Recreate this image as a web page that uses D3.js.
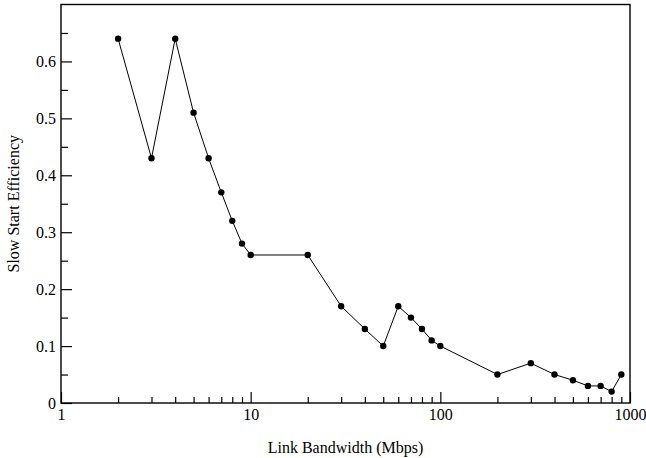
<!DOCTYPE html>
<html>
<head>
<meta charset="utf-8">
<script src="https://cdn.jsdelivr.net/npm/d3@7"></script>
<style>
  body { margin: 0; background: #fff; }
  svg { display: block; font-family: "Liberation Serif", "Times New Roman", serif; }
</style>
</head>
<body>
<div id="chart"></div>
<script>
// bandwidth (Mbps) and slow start efficiency
const bandwidth = [2, 3, 4, 5, 6, 7, 8, 9, 10, 20, 30, 40, 50, 60, 70, 80, 90, 100, 200, 300, 400, 500, 600, 700, 800, 900];
const efficiency = [0.64, 0.43, 0.64, 0.51, 0.43, 0.37, 0.32, 0.28, 0.26, 0.26, 0.17, 0.13, 0.10, 0.17, 0.15, 0.13, 0.11, 0.10, 0.05, 0.07, 0.05, 0.04, 0.03, 0.03, 0.02, 0.05];
const xTickValues = [1, 10, 100, 1000];
const yTickValues = [0, 0.1, 0.2, 0.3, 0.4, 0.5, 0.6];

const width = 646;
const height = 458;
const margin = { top: 4.5, right: 16, bottom: 55, left: 61 };

const points = bandwidth.map((b, i) => ({ x: b, y: efficiency[i] }));

const svg = d3.select("#chart")
  .append("svg")
  .attr("width", width)
  .attr("height", height);

const xScale = d3.scaleLog()
  .domain([1, 1000])
  .range([margin.left, width - margin.right]);

const yScale = d3.scaleLinear()
  .domain([0, 0.7])
  .range([height - margin.bottom, margin.top]);

// minor ticks: 2..9 in each decade on x, every 0.05 on y
const xMinor = [];
for (const dec of [1, 10, 100]) {
  for (let k = 2; k <= 9; k++) xMinor.push(dec * k);
}
const yMinor = d3.range(0.05, 0.7, 0.1);

const xAxis = svg.append("g")
  .attr("transform", `translate(0, ${yScale(0)})`);
xAxis.call(d3.axisBottom(xScale).tickValues(xMinor).tickFormat("").tickSize(-6).tickSizeOuter(0));
xAxis.call(g => g.select(".domain").remove());

const xMajor = svg.append("g")
  .attr("transform", `translate(0, ${yScale(0)})`)
  .call(d3.axisBottom(xScale)
    .tickValues(xTickValues)
    .tickFormat(d3.format("d"))
    .tickSize(-11)
    .tickSizeOuter(0)
    .tickPadding(4));
xMajor.select(".domain").remove();
xMajor.selectAll("text")
  .attr("font-size", 16)
  .attr("font-family", "Liberation Serif")
  .attr("fill", "#000")
  .attr("dy", "0.9em")
  .attr("y", 3);

const yAxis = svg.append("g")
  .attr("transform", `translate(${xScale(1)}, 0)`);
yAxis.call(d3.axisLeft(yScale).tickValues(yMinor).tickFormat("").tickSize(-7).tickSizeOuter(0));
yAxis.call(g => g.select(".domain").remove());

const yMajor = svg.append("g")
  .attr("transform", `translate(${xScale(1)}, 0)`)
  .call(d3.axisLeft(yScale)
    .tickValues(yTickValues)
    .tickFormat(d => d === 0 ? "0" : d3.format(".1f")(d))
    .tickSize(-11)
    .tickSizeOuter(0)
    .tickPadding(5));
yMajor.select(".domain").remove();
yMajor.selectAll("text")
  .attr("font-size", 16)
  .attr("font-family", "Liberation Serif")
  .attr("fill", "#000");

svg.selectAll(".tick line").attr("stroke", "#000").attr("stroke-width", 1.2);

// frame
svg.append("rect")
  .attr("x", xScale(1))
  .attr("y", yScale(0.7))
  .attr("width", xScale(1000) - xScale(1))
  .attr("height", yScale(0) - yScale(0.7))
  .attr("fill", "none")
  .attr("stroke", "#000")
  .attr("stroke-width", 1.4);

const line = d3.line()
  .x(d => xScale(d.x))
  .y(d => yScale(d.y));

svg.append("path")
  .datum(points)
  .attr("d", line)
  .attr("fill", "none")
  .attr("stroke", "#000")
  .attr("stroke-width", 1);

svg.append("g")
  .selectAll("circle")
  .data(points)
  .join("circle")
  .attr("cx", d => xScale(d.x))
  .attr("cy", d => yScale(d.y))
  .attr("r", 3.2)
  .attr("fill", "#000");

svg.append("text")
  .attr("x", (xScale(1) + xScale(1000)) / 2)
  .attr("y", 453)
  .attr("text-anchor", "middle")
  .attr("font-size", 16)
  .text("Link Bandwidth (Mbps)");

svg.append("text")
  .attr("transform", `translate(19, ${(yScale(0) + yScale(0.7)) / 2}) rotate(-90)`)
  .attr("text-anchor", "middle")
  .attr("font-size", 16)
  .text("Slow Start Efficiency");
</script>
</body>
</html>
